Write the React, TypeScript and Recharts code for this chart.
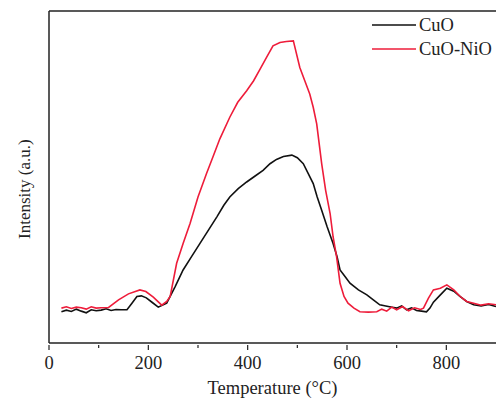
import { LineChart, Line, XAxis, YAxis, ReferenceLine } from 'recharts';

// CuO trace (temperature °C, intensity a.u.)
const cuoTemp = [25, 35, 45, 55, 65, 75, 85, 95, 105, 115, 125, 135, 145, 157, 167, 177, 186, 196, 208, 220, 237, 254, 270, 287, 304, 321, 338, 352, 364, 381, 398, 415, 431, 445, 458, 472, 489, 500, 512, 522, 532, 540, 549, 560, 572, 580, 586, 596, 606, 623, 640, 653, 666, 683, 700, 710, 720, 730, 740, 750, 760, 767, 774, 788, 801, 815, 828, 841, 855, 870, 885, 900];
const cuoIntensity = [9.4, 9.9, 9.5, 10.2, 9.6, 9.1, 10.0, 9.7, 9.9, 10.3, 9.8, 10.1, 10.0, 10.0, 12.0, 14.0, 14.2, 13.6, 12.2, 10.8, 12.0, 17.0, 22.0, 26.0, 30.0, 34.0, 38.0, 41.5, 44.0, 46.5, 48.5, 50.3, 52.0, 54.0, 55.3, 56.2, 56.6, 55.8, 54.0, 51.0, 48.0, 44.0, 40.0, 35.0, 30.0, 26.0, 22.0, 20.0, 18.0, 16.0, 14.5, 13.0, 11.5, 11.0, 10.5, 11.2, 10.0, 10.6, 9.8, 9.6, 9.4, 10.5, 12.3, 14.5, 16.5, 15.6, 14.0, 12.5, 11.5, 11.2, 11.6, 11.0];

// CuO-NiO trace
const nioTemp = [25, 35, 45, 55, 65, 75, 85, 95, 105, 120, 140, 160, 183, 195, 210, 227, 237, 244, 257, 270, 284, 300, 317, 330, 344, 364, 380, 398, 412, 425, 438, 451, 465, 478, 492, 505, 515, 525, 532, 539, 549, 557, 566, 572, 579, 586, 594, 602, 614, 626, 643, 660, 670, 680, 690, 700, 712, 724, 736, 748, 754, 764, 774, 788, 801, 815, 828, 841, 855, 870, 885, 900];
const nioIntensity = [10.5, 10.9, 10.4, 10.8, 10.6, 10.2, 10.9, 10.5, 10.6, 10.7, 13.0, 14.8, 16.0, 15.5, 13.8, 11.4, 12.5, 14.0, 24.0, 30.0, 36.0, 44.0, 51.0, 56.0, 61.5, 68.0, 72.5, 76.0, 79.0, 82.5, 86.0, 89.5, 90.5, 90.8, 91.0, 83.0, 79.0, 75.0, 71.0, 66.0, 54.0, 46.0, 39.0, 32.0, 26.0, 18.0, 14.0, 12.0, 10.5, 9.4, 9.3, 9.4, 10.2, 9.6, 10.8, 10.0, 11.0, 9.7, 10.6, 10.1, 10.5, 13.5, 16.0, 16.5, 17.5, 16.0, 14.0, 12.5, 12.0, 11.4, 11.8, 11.5];

// all ticks; only multiples of 200 get a label
const xTicks = [0, 100, 200, 300, 400, 500, 600, 700, 800];

const cuoData = cuoTemp.map((t, i) => ({ t, v: cuoIntensity[i] }));
const nioData = nioTemp.map((t, i) => ({ t, v: nioIntensity[i] }));

const FONT = '"Liberation Serif", "DejaVu Serif", serif';
const RED = '#ee1c3a';
const INK = '#222';

const legendItems = [
  { name: 'CuO', color: '#111' },
  { name: 'CuO-NiO', color: RED },
];

function TempTick(props: any) {
  const { x, y, payload } = props;
  const major = payload.value % 200 === 0;
  return (
    <g>
      <line x1={x} y1={y - 5} x2={x} y2={y + (major ? 0 : -2)} stroke={INK} strokeWidth={1.2} />
      {major && (
        <text x={x} y={y + 19} textAnchor="middle" fontFamily={FONT} fontSize={18.5} fill={INK}>
          {payload.value}
        </text>
      )}
    </g>
  );
}

export default function App() {
  return (
    <div style={{ position: 'absolute', left: 0, top: 0, width: 499, height: 399, background: '#fff' }}>
      <LineChart width={499} height={399} margin={{ top: 11, right: 3, left: 0, bottom: 0 }}>
        <XAxis
          dataKey="t" type="number" domain={[0, 900]} ticks={xTicks} allowDataOverflow
          height={56} stroke={INK} strokeWidth={1.5} tickLine={false} tickSize={5} tick={<TempTick />}
          label={{ value: 'Temperature (°C)', position: 'insideBottom', offset: 5, fontFamily: FONT, fontSize: 18.5, fill: INK }}
        />
        <YAxis
          type="number" domain={[0, 100]} tick={false} tickLine={false} width={49} stroke={INK} strokeWidth={1.5}
          label={{ value: 'Intensity (a.u.)', angle: -90, position: 'insideLeft', offset: 24, dy: 62, fontFamily: FONT, fontSize: 17, fill: INK }}
        />
        <ReferenceLine y={100} stroke={INK} strokeWidth={1.5} />
        <Line data={cuoData} dataKey="v" type="linear" stroke="#111" strokeWidth={1.6} dot={false} isAnimationActive={false} />
        <Line data={nioData} dataKey="v" type="linear" stroke={RED} strokeWidth={1.6} dot={false} isAnimationActive={false} />
      </LineChart>
      <div style={{ position: 'absolute', left: 372, top: 13, fontFamily: FONT, fontSize: 18.5, color: INK }}>
        {legendItems.map(item => (
          <div key={item.name} style={{ display: 'flex', alignItems: 'center', height: 24, whiteSpace: 'nowrap' }}>
            <svg width={44} height={4} style={{ marginRight: 3 }}>
              <line x1={0} y1={2} x2={44} y2={2} stroke={item.color} strokeWidth={1.6} />
            </svg>
            <span>{item.name}</span>
          </div>
        ))}
      </div>
    </div>
  );
}
